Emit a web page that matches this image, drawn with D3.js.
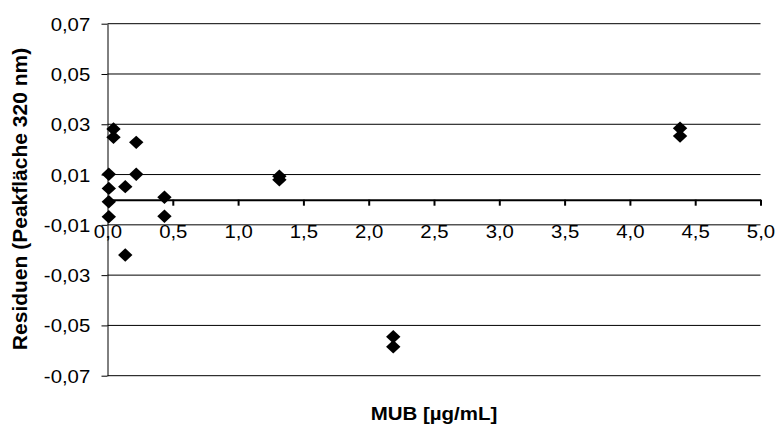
<!DOCTYPE html>
<html>
<head>
<meta charset="utf-8">
<script src="https://cdn.jsdelivr.net/npm/d3@7"></script>
<style>
  html, body { margin: 0; padding: 0; background: #fff; }
  svg { display: block; }
  text { font-family: "Liberation Sans", Arial, sans-serif; fill: #000; }
</style>
</head>
<body>
<svg id="chart" width="777" height="425"></svg>
<script>
// ---- data ----
const concentrations = [0.01, 0.01, 0.01, 0.01, 0.046, 0.046, 0.136, 0.136, 0.22, 0.22, 0.436, 0.436, 1.316, 1.316, 2.188, 2.188, 4.384, 4.384];
const residuals      = [0.0101, 0.0045, -0.0008, -0.0068, 0.0281, 0.0248, 0.0052, -0.0220, 0.0228, 0.0101, 0.0010, -0.0066, 0.0093, 0.0079, -0.0545, -0.0585, 0.0284, 0.0253];
const xTicks = [0, 0.5, 1, 1.5, 2, 2.5, 3, 3.5, 4, 4.5, 5];
const yTicks = [-0.07, -0.05, -0.03, -0.01, 0.01, 0.03, 0.05, 0.07];
const xTitle = "MUB [µg/mL]";
const yTitle = "Residuen (Peakfläche 320 nm)";

const svg = d3.select("#chart");
const x = d3.scaleLinear().domain([0, 5]).range([107.5, 760.5]);
const y = d3.scaleLinear().domain([-0.07, 0.07]).range([375.7, 23.7]);

const loc = d3.formatLocale({decimal: ",", thousands: ".", grouping: [3], currency: ["", "€"], minus: "-"});
const fy = loc.format(".2f");
const fx = loc.format(".1f");

// gridlines
svg.append("g").selectAll("line").data(yTicks).join("line")
  .attr("x1", x(0)).attr("x2", x(5))
  .attr("y1", d => y(d)).attr("y2", d => y(d))
  .attr("stroke", "#000").attr("stroke-width", 1);

// y axis
const yAxis = svg.append("g").attr("transform", `translate(${x(0)},0)`)
  .call(d3.axisLeft(y).tickValues(yTicks).tickSize(6).tickSizeOuter(0).tickFormat(fy));
yAxis.select(".domain").attr("stroke", "#000").attr("stroke-width", 1);
yAxis.selectAll(".tick line").attr("stroke", "#000");
yAxis.selectAll(".tick text")
  .attr("x", -15.7).attr("dy", "0.35em")
  .attr("transform", "scale(1.1,1)")
  .style("font-size", "18.5px").style("font-family", '"Liberation Sans", Arial, sans-serif');

// x axis at y = 0
const xAxis = svg.append("g").attr("transform", `translate(0,${y(0)})`)
  .call(d3.axisBottom(x).tickValues(xTicks).tickSize(6).tickSizeOuter(0).tickFormat(fx));
xAxis.select(".domain").attr("stroke", "#000").attr("stroke-width", 2);
xAxis.selectAll(".tick line").attr("stroke", "#000").attr("stroke-width", 2);
xAxis.selectAll(".tick text")
  .attr("y", 38.3).attr("dy", 0)
  .attr("transform", "scale(1.1,1)")
  .style("font-size", "18.5px").style("font-family", '"Liberation Sans", Arial, sans-serif');

// points (diamonds)
const pts = concentrations.map((c, i) => ({c, r: residuals[i]}));
svg.append("g").selectAll("path").data(pts).join("path")
  .attr("d", "M0,-6.7L7.2,0L0,6.7L-7.2,0Z")
  .attr("transform", d => `translate(${x(d.c)},${y(d.r)})`)
  .attr("fill", "#000");

// titles
svg.append("text")
  .attr("transform", `translate(${(x(0) + x(5)) / 2},420) scale(1.1,1)`)
  .attr("text-anchor", "middle")
  .style("font-size", "18.6px").style("font-weight", "bold")
  .text(xTitle);

svg.append("text")
  .attr("transform", `translate(27,199) rotate(-90)`)
  .attr("text-anchor", "middle")
  .style("font-size", "21px").style("font-weight", "bold")
  .text(yTitle);
</script>
</body>
</html>
